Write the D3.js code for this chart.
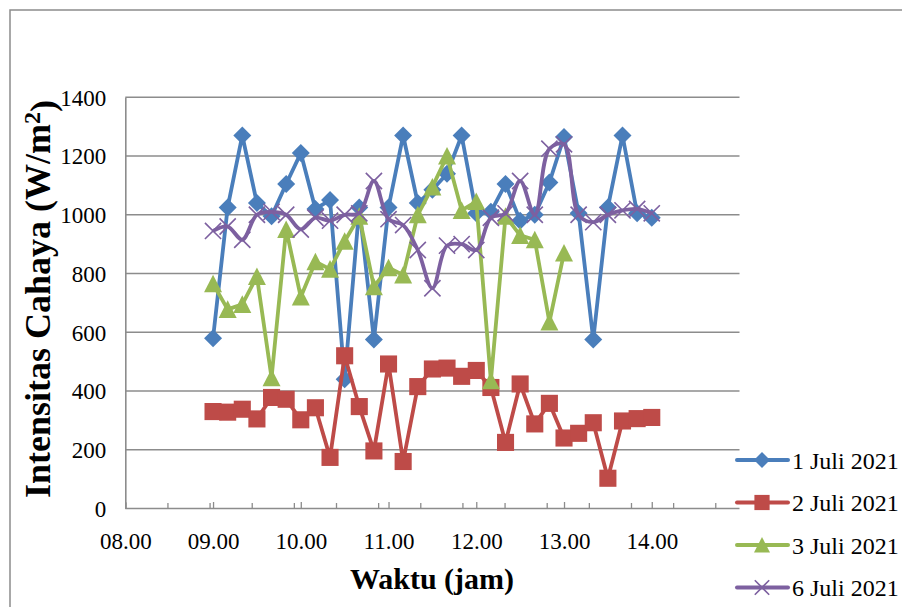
<!DOCTYPE html>
<html>
<head>
<meta charset="utf-8">
<script src="https://cdn.jsdelivr.net/npm/d3@7"></script>
<style>
  html, body { margin: 0; padding: 0; background: #fff; }
  svg { display: block; }
  text { font-family: "Liberation Serif", "Times New Roman", serif; fill: #000; }
</style>
</head>
<body>
<svg id="chart" width="902" height="607"></svg>
<script>
// ---------- data ----------
const timeLabels = ["09.00","09.10","09.20","09.30","09.40","09.50",
  "10.00","10.10","10.20","10.30","10.40","10.50",
  "11.00","11.10","11.20","11.30","11.40","11.50",
  "12.00","12.10","12.20","12.30","12.40","12.50",
  "13.00","13.10","13.20","13.30","13.40","13.50","14.00"];
const juli1 = [580,1025,1270,1040,995,1105,1210,1020,1050,440,1025,575,1025,1270,1040,1085,1140,1270,1005,1010,1105,980,1000,1110,1265,1005,575,1025,1270,1005,990];
const juli2 = [330,328,338,305,378,372,302,343,174,520,347,196,492,160,415,475,478,450,470,412,225,424,288,358,240,256,292,103,298,306,310];
const juli3 = [765,678,695,790,445,950,720,840,815,910,995,755,820,795,1000,1095,1200,1015,1045,435,995,930,915,635,870];
const juli6 = [945,960,915,1000,1010,1000,950,990,980,1000,1005,1115,985,965,880,750,895,900,880,990,1005,1115,1000,1225,1240,1000,975,1000,1015,1020,1005];
const seriesNames = ["1 Juli 2021","2 Juli 2021","3 Juli 2021","6 Juli 2021"];
const xTickLabels = ["08.00","09.00","10.00","11.00","12.00","13.00","14.00"];
const yTickLabels = [0,200,400,600,800,1000,1200,1400];
const minorTickCount = [0,1,2,3,4,5,6,7,8,9,10,11,12,13,14];

(function () {
const toHour = s => { const [h, m] = s.split(".").map(Number); return h + m / 60; };
const colors = ["#4A7EBB", "#BE4B48", "#98B954", "#7D60A0"];
const shapes = ["diamond", "square", "triangle", "x"];

const svg = d3.select("#chart");
const pL = 125.3, pR = 739.5, pT = 97.3, pB = 508.5;

svg.append("rect").attr("x", 10).attr("y", 10).attr("width", 1000).attr("height", 700)
  .attr("fill", "none").attr("stroke", "#8c8c8c").attr("stroke-width", 1.5);

const x = d3.scaleLinear().domain([8, 15]).range([pL, pR]);
const xMinor = d3.scaleLinear().domain([0, 14.575]).range([pL, pR]);
const y = d3.scaleLinear().domain([0, 1400]).range([pB, pT]);

svg.append("g").selectAll("line").data(yTickLabels.filter(v => v > 0)).join("line")
  .attr("x1", pL).attr("x2", pR)
  .attr("y1", d => y(d)).attr("y2", d => y(d))
  .attr("stroke", "#8c8c8c").attr("stroke-width", 1.4);

const yAxis = svg.append("g").attr("transform", `translate(${pL},0)`)
  .call(d3.axisLeft(y).tickValues(yTickLabels).tickSize(0).tickPadding(19).tickFormat(d3.format("d")));
yAxis.attr("font-family", null);
yAxis.select(".domain").attr("stroke", "#8c8c8c").attr("stroke-width", 1.6);
yAxis.selectAll("text").style("font-size", "23px").attr("dy", "0.34em");

const xAxis = svg.append("g").attr("transform", `translate(0,${pB})`)
  .call(d3.axisBottom(x).tickValues(xTickLabels.map(toHour)).tickSize(-6.5).tickPadding(0)
    .tickFormat((d, i) => xTickLabels[i]));
xAxis.attr("font-family", null);
xAxis.select(".domain").attr("stroke", "#8c8c8c").attr("stroke-width", 1.6).attr("d", `M${pL},0H${pR}`);
xAxis.selectAll(".tick line").attr("stroke", "#8c8c8c").attr("stroke-width", 1.3);
xAxis.selectAll("text").style("font-size", "23px").attr("y", 40).attr("dy", 0);

const xAxis2 = svg.append("g").attr("transform", `translate(0,${pB})`)
  .call(d3.axisBottom(xMinor).tickValues(minorTickCount).tickSize(-5.5).tickFormat(""));
xAxis2.select(".domain").remove();
xAxis2.selectAll(".tick line").attr("stroke", "#8c8c8c").attr("stroke-width", 1.3);

svg.append("text").attr("x", 432).attr("y", 589).attr("text-anchor", "middle")
  .style("font-size", "30px").style("font-weight", "bold").text("Waktu (jam)");
const yt = svg.append("text").attr("transform", "translate(50,299) rotate(-90)")
  .attr("text-anchor", "middle").style("font-size", "36px").style("font-weight", "bold");
yt.append("tspan").text("Intensitas Cahaya (W/m");
yt.append("tspan").attr("dy", "-0.4em").style("font-size", "24px").text("2");
yt.append("tspan").attr("dy", "0.4em").text(")");

function marker(g, shape, color, s) {
  if (shape === "diamond") {
    g.append("path").attr("d", `M0,${-s}L${s},0L0,${s}L${-s},0Z`).attr("fill", color);
  } else if (shape === "square") {
    const h = s * 0.95;
    g.append("path").attr("d", `M${-h},${-h}H${h}V${h}H${-h}Z`).attr("fill", color);
  } else if (shape === "triangle") {
    g.append("path").attr("d", `M0,${-s}L${s},${s * 0.95}L${-s},${s * 0.95}Z`).attr("fill", color);
  } else {
    const h = s * 0.9;
    g.append("path").attr("d", `M${-h},${-h}L${h},${h}M${-h},${h}L${h},${-h}`)
      .attr("stroke", color).attr("stroke-width", 1.6).attr("fill", "none");
  }
}

const allSeries = [juli1, juli2, juli3, juli6];
allSeries.forEach((vals, si) => {
  const pts = vals.map((v, i) => [toHour(timeLabels[i]), v]);
  const line = d3.line().x(d => x(d[0])).y(d => y(d[1]))
    .curve(si === 3 ? d3.curveCatmullRom.alpha(0.5) : d3.curveLinear);
  const g = svg.append("g");
  g.append("path").attr("d", line(pts)).attr("fill", "none")
    .attr("stroke", colors[si]).attr("stroke-width", 3.8).attr("stroke-linejoin", "round");
  pts.forEach(p => {
    const mg = g.append("g").attr("transform", `translate(${x(p[0])},${y(p[1])})`);
    marker(mg, shapes[si], colors[si], 9);
  });
});

const legendY = [460, 502.5, 545, 587.5];
seriesNames.forEach((name, i) => {
  const g = svg.append("g").attr("transform", `translate(0,${legendY[i]})`);
  g.append("line").attr("x1", 737).attr("x2", 788).attr("y1", 0).attr("y2", 0)
    .attr("stroke", colors[i]).attr("stroke-width", 4).attr("stroke-linecap", "round");
  const mg = g.append("g").attr("transform", "translate(762,0)");
  marker(mg, shapes[i], colors[i], 8);
  g.append("text").attr("x", 792).attr("y", 8.5).style("font-size", "24px").text(name);
});
})();
</script>
</body>
</html>
